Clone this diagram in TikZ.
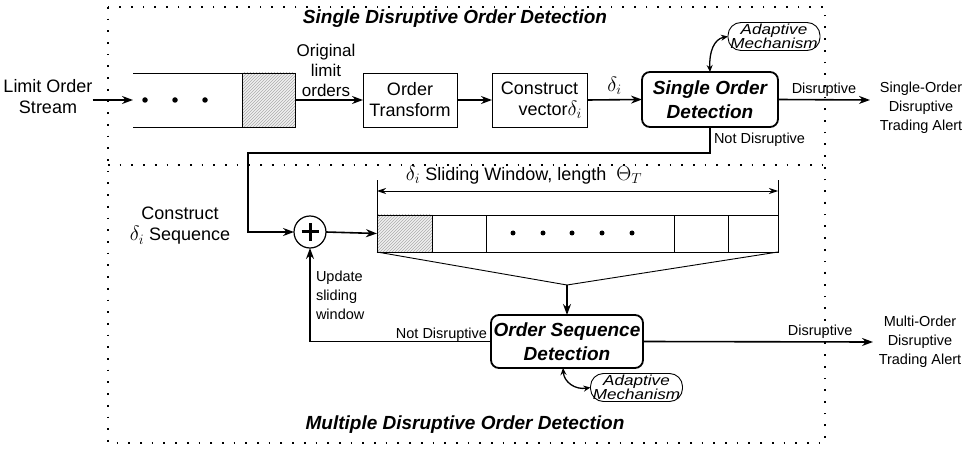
\documentclass[tikz,border=0pt]{standalone}
\usepackage{fontspec}
\setmainfont{Liberation Sans}
\newfontfamily\adaptfam[FakeStretch=1.18]{Liberation Sans}
\newcommand\adaptfont{\adaptfam\itshape\fontsize{14.5}{13.5}\selectfont}
\newcommand\bigdelta{{\fontsize{22}{22}\selectfont$\delta_i$}}
\usetikzlibrary{arrows.meta,patterns,calc}
\begin{document}
\begin{tikzpicture}[x=1pt,y=-1pt,
  every node/.style={inner sep=0pt, outer sep=0pt},
  arr/.style={line width=1.6pt, -{Stealth[length=11pt,width=8pt]}},
  darr/.style={line width=1.3pt, {Stealth[length=7pt,width=6pt]}-{Stealth[length=7pt,width=6pt]}},
  dimarr/.style={line width=0.9pt, {Stealth[length=9pt,width=6pt]}-{Stealth[length=9pt,width=6pt]}},
  thin line/.style={line width=0.9pt},
  plainbox/.style={draw, line width=0.9pt, minimum height=54pt, align=center, font=\fontsize{18}{21}\selectfont},
  cell/.style={draw, line width=0.9pt, minimum height=37pt},
  hatch/.style={preaction={fill=gray!12}, pattern=north east lines, pattern color=gray!65},
  detbox/.style={draw, line width=1.8pt, rounded corners=8pt, align=center, font=\fontsize{19}{24}\selectfont\bfseries\itshape},
  adapt/.style={draw, line width=0.9pt, rounded corners=13pt, minimum width=92pt, minimum height=28pt, align=center, font=\adaptfont},
  lbl/.style={align=center, font=\fontsize{18}{21}\selectfont},
  sml/.style={align=center, font=\fontsize{14.5}{19}\selectfont},
  titlelbl/.style={font=\fontsize{19}{22}\selectfont\bfseries\itshape},
  frame/.style={line width=1.7pt, dash pattern=on 1.7pt off 10pt},
  dot/.style={circle, fill=black, minimum size=5.5pt}
]
\useasboundingbox (0,0) rectangle (969,449);

% frames
\draw[frame] (108,7) rectangle (825,443);
\draw[frame] (108,165) -- (825,165);
\node[titlelbl] (t1) at (455,19) {Single Disruptive Order Detection};
\node[titlelbl] (t2) at (465,425) {Multiple Disruptive Order Detection};

% ---- top row
\node[lbl] (stream) at (48,97) {Limit Order\\Stream};
\coordinate (qin) at (133,100);
\node[draw, line width=0.9pt, hatch, minimum width=53pt, minimum height=54pt] (hq) at (268.5,100) {};
\draw[thin line] (qin |- hq.north) -- (hq.north west);
\draw[thin line] (qin |- hq.south) -- (hq.south west);
\node[dot] (q1) at (145,100) {};
\node[dot] (q2) at (175,100) {};
\node[dot] (q3) at (205,100) {};
\draw[arr] (stream.east |- qin) -- (qin);

\node[plainbox, minimum width=94pt] (ot) at (410,100) {Order\\Transform};
\node[plainbox, minimum width=95pt] (cv) at (539.5,100) {Construct\\\hspace*{1.2em}vector\bigdelta};
\node[align=center, font=\fontsize{17}{20}\selectfont] (orig) at (326,70) {Original\\limit\\orders};
\draw[arr] (hq.east) -- (ot.west);
\draw[arr] (ot.east) -- (cv.west);

\node[detbox, minimum width=136pt, minimum height=55pt] (sod) at (710,99.5) {Single Order\\Detection};
\draw[arr] (cv.east) -- node[above=5pt] (dl) {\bigdelta} (sod.west);

\node[adapt] (ad1) at (774,36.5) {Adaptive\\Mechanism};
\draw[darr] (sod.north) .. controls (709,52) and (714,39) .. (ad1.west);

\node[sml] (al1) at (921,108) {Single-Order\\Disruptive\\Trading Alert};
\coordinate (a1end) at (870,100);
\draw[arr] (sod.east) -- node[above=3pt, sml] (dis1) {Disruptive} (a1end);

\node[sml, anchor=west] (nd1) at (714,140) {Not Disruptive};

% ---- bottom part
\node[draw, circle, line width=1.2pt, minimum size=32pt] (plus) at (310,232) {};
\draw[line width=3pt] ($(plus.center)+(-8.5,0)$) -- ($(plus.center)+(8.5,0)$);
\draw[line width=3pt] ($(plus.center)+(0,-8.5)$) -- ($(plus.center)+(0,8.5)$);

\coordinate (c1) at (248,153);
\draw[arr] (sod.south) |- (c1) |- (plus.west);

\node[lbl] (cseq) at (180,226) {Construct\\\bigdelta\ Sequence};

\node[cell, hatch, minimum width=55pt] (w1) at (404.5,233.5) {};
\node[cell, minimum width=54pt] (w2) at (459,233.5) {};
\node[cell, minimum width=188pt] (w3) at (580,233.5) {};
\node[cell, minimum width=54pt] (w4) at (701,233.5) {};
\node[cell, minimum width=50pt] (w5) at (753,233.5) {};
\node[dot, minimum size=5pt] (d1) at (513,233) {};
\node[dot, minimum size=5pt] (d2) at (543,233) {};
\node[dot, minimum size=5pt] (d3) at (572,233) {};
\node[dot, minimum size=5pt] (d4) at (602,233) {};
\node[dot, minimum size=5pt] (d5) at (632,233) {};
\draw[arr] (plus.east) -- (w1.west);

\coordinate (tl) at ($(w1.north west)+(0,-35)$);
\coordinate (tr) at ($(w5.north east)+(0,-35)$);
\draw[thin line] (w1.north west) -- (tl);
\draw[thin line] (w5.north east) -- (tr);
\draw[dimarr] ($(w1.north west)+(0,-24)$) -- ($(w5.north east)+(0,-24)$);
\node[lbl] (swl) at (524,175) {\bigdelta\ Sliding Window, length\ \ {\fontsize{20}{20}\selectfont$\Theta_T$}};

\coordinate (fp) at (567,285);
\draw[thin line] (w1.south west) -- (fp) -- (w5.south east);

\node[detbox, minimum width=152pt, minimum height=53pt] (osd) at (567,341.5) {Order Sequence\\Detection};
\draw[arr] (fp) -- (osd.north);

\draw[arr] (osd.west) -| (plus.south);
\node[sml, anchor=base east] (nd2) at (487,338) {Not Disruptive};
\node[sml, anchor=west, align=left] (upd) at (316,295) {Update\\sliding\\window};

\node[sml] (al2) at (920,342) {Multi-Order\\Disruptive\\Trading Alert};
\coordinate (a2end) at (873,342);
\draw[arr] (osd.east) -- node[pos=0.77, above=3pt, sml] (dis2) {Disruptive} (a2end);

\node[adapt] (ad2) at (636.5,387.5) {Adaptive\\Mechanism};
\draw[darr] ([xshift=-4pt]osd.south) .. controls (564,382) and (575,390) .. (ad2.west);
\end{tikzpicture}
\end{document}
